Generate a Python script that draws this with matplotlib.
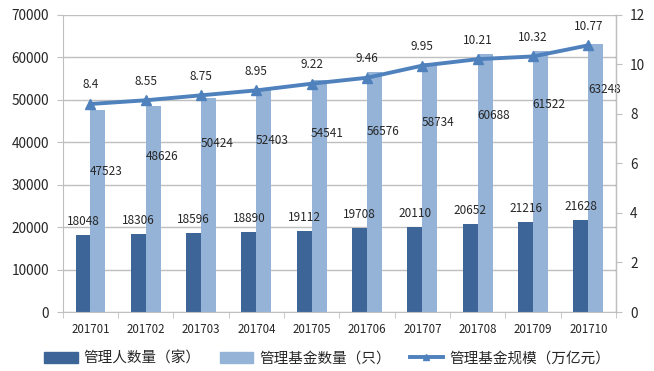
import matplotlib
matplotlib.use("Agg")
import matplotlib.pyplot as plt
import numpy as np
from matplotlib.patches import Patch
from matplotlib.lines import Line2D

plt.rcParams['font.family'] = ['Noto Sans CJK SC', 'DejaVu Sans']

months = ["201701", "201702", "201703", "201704", "201705",
          "201706", "201707", "201708", "201709", "201710"]
managers = [18048, 18306, 18596, 18890, 19112, 19708, 20110, 20652, 21216, 21628]
funds = [47523, 48626, 50424, 52403, 54541, 56576, 58734, 60688, 61522, 63248]
scale = [8.4, 8.55, 8.75, 8.95, 9.22, 9.46, 9.95, 10.21, 10.32, 10.77]

# where the fund-count labels sit inside the light bars (points below bar top)
fund_label_drop = [44, 37, 33, 37, 38, 43, 43, 44, 39, 33]

dark = "#3d6598"
light = "#95b3d7"
line_c = "#4f81bd"
grid_c = "#bfbfbf"
text_c = "#262626"

fig = plt.figure(figsize=(6.54, 3.71), dpi=100)
ax = fig.add_axes([0.096, 0.159, 0.846, 0.801])
ax2 = ax.twinx()

x = np.arange(len(months))
w = 0.27
ax.bar(x - w / 2, managers, w, color=dark, zorder=2)
ax.bar(x + w / 2, funds, w, color=light, zorder=2)

ax.set_xlim(-0.5, len(months) - 0.5)
ax.set_ylim(0, 70000)
ax.set_yticks(np.arange(0, 70001, 10000))
ax.yaxis.grid(True, color=grid_c, linewidth=1, zorder=0)
ax.set_axisbelow(True)
ax.set_xticks(x)
ax.set_xticklabels(months)
ax.set_xticks(np.arange(-0.5, len(months)), minor=True)
ax.tick_params(axis='x', which='major', length=0, pad=8, labelsize=8.3, labelcolor=text_c)
ax.tick_params(axis='x', which='minor', length=4, color=grid_c)
ax.tick_params(axis='y', length=4, color=grid_c, pad=6, labelsize=9.8, labelcolor=text_c)

ax.spines["top"].set_visible(False)
ax2.spines["top"].set_visible(False)
for sp in [ax.spines["left"], ax.spines["bottom"], ax2.spines["right"]]:
    sp.set_color(grid_c)
ax2.spines["left"].set_visible(False)
ax2.spines["bottom"].set_visible(False)

for xi, v in zip(x, managers):
    ax.annotate(str(v), (xi - w / 2, v), xytext=(0, 5), textcoords="offset points",
                ha="center", va="bottom", fontsize=8.5, color=text_c)
for xi, v, d in zip(x, funds, fund_label_drop):
    ax.annotate(str(v), (xi + w / 2, v), xytext=(6, -d), textcoords="offset points",
                ha="center", va="center", fontsize=8.5, color=text_c)

ax2.plot(x, scale, color=line_c, linewidth=2.8, marker="^", markersize=7,
         markerfacecolor=line_c, markeredgecolor=line_c, zorder=3)
ax2.set_ylim(0, 12)
ax2.set_yticks(np.arange(0, 13, 2))
ax2.tick_params(axis='y', length=4, color=grid_c, pad=6, labelsize=9.8, labelcolor=text_c)
for xi, v in zip(x, scale):
    ax2.annotate(f"{v:g}", (xi, v), xytext=(0, 9), textcoords="offset points",
                 ha="center", va="bottom", fontsize=8.5, color=text_c)

handles = [Patch(color=dark), Patch(color=light),
           Line2D([], [], color=line_c, linewidth=2.8, marker="^", markersize=5)]
labels = ["管理人数量（家）", "管理基金数量（只）", "管理基金规模（万亿元）"]
fig.legend(handles, labels, loc="lower center", bbox_to_anchor=(0.5, -0.02), ncol=3,
           frameon=False, fontsize=10.5, handlelength=2.3, handleheight=0.8,
           columnspacing=1.3, handletextpad=0.4, labelcolor=text_c)

fig.savefig("out.png", dpi=100)
